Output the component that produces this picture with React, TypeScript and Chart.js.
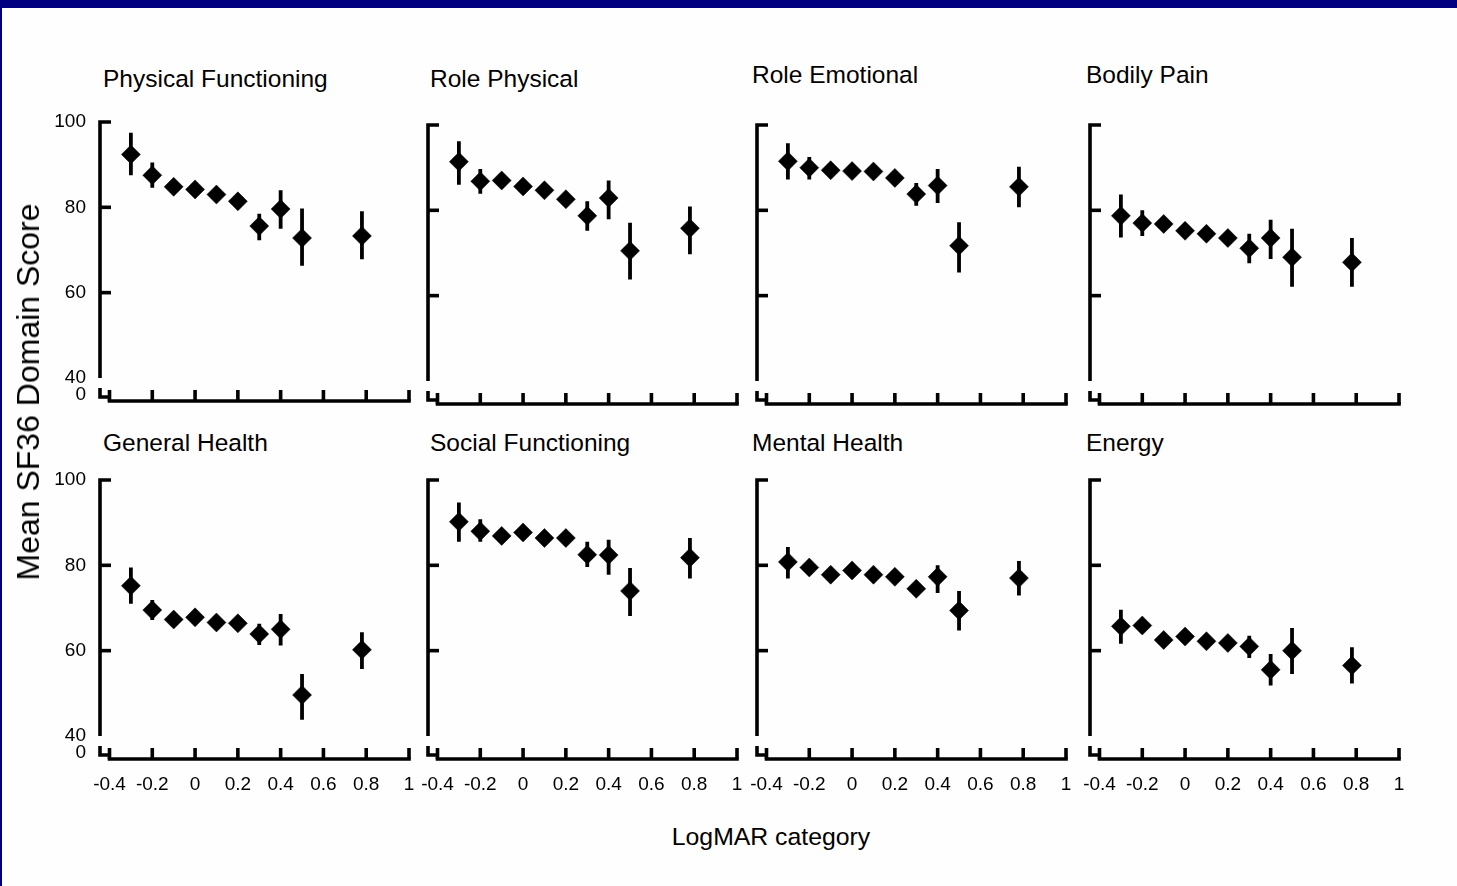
import React, { useEffect, useRef } from 'react';
import { Chart, registerables } from 'chart.js';

Chart.register(...registerables);

// ---------- data ----------
const logmarCategories = [-0.3, -0.2, -0.1, 0, 0.1, 0.2, 0.3, 0.4, 0.5, 0.78];
const xTickValues = [-0.4, -0.2, 0, 0.2, 0.4, 0.6, 0.8, 1];
const yTickValues = [40, 60, 80, 100];
const yTickMarkValues = [60, 80, 100];
const yBreakLabel = '0';

const physicalFunctioningMean = [92.4, 87.5, 84.8, 84.2, 83.0, 81.4, 75.6, 79.6, 72.8, 73.3];
const physicalFunctioningLow = [87.5, 84.6, 83.3, 82.7, 81.5, 79.9, 72.3, 75.0, 66.3, 67.8];
const physicalFunctioningHigh = [97.5, 90.5, 86.3, 85.7, 84.5, 82.9, 78.5, 84.0, 79.7, 79.1];

const rolePhysicalMean = [91.4, 86.8, 87.0, 85.6, 84.7, 82.6, 78.7, 82.9, 70.5, 75.8];
const rolePhysicalLow = [86.0, 83.9, 85.5, 84.1, 83.2, 81.1, 75.2, 77.9, 63.8, 69.7];
const rolePhysicalHigh = [96.2, 89.7, 88.5, 87.1, 86.2, 84.1, 82.1, 87.0, 77.1, 80.9];

const roleEmotionalMean = [91.5, 90.0, 89.4, 89.2, 89.1, 87.6, 83.8, 85.8, 71.7, 85.5];
const roleEmotionalLow = [87.2, 87.2, 87.9, 87.7, 87.6, 86.1, 81.1, 81.7, 65.4, 80.7];
const roleEmotionalHigh = [95.7, 92.5, 90.9, 90.7, 90.6, 89.1, 86.4, 89.7, 77.2, 90.2];

const bodilyPainMean = [78.7, 77.0, 76.8, 75.2, 74.5, 73.5, 71.1, 73.5, 69.0, 67.8];
const bodilyPainLow = [73.6, 74.0, 75.3, 73.7, 73.0, 72.0, 67.6, 68.6, 62.1, 62.1];
const bodilyPainHigh = [83.7, 80.0, 78.3, 76.7, 76.0, 75.0, 74.5, 77.8, 75.7, 73.5];

const generalHealthMean = [75.2, 69.5, 67.3, 67.8, 66.6, 66.4, 63.9, 65.0, 49.6, 60.2];
const generalHealthLow = [71.0, 67.2, 65.8, 66.3, 65.1, 64.9, 61.3, 61.2, 43.8, 55.7];
const generalHealthHigh = [79.5, 71.9, 68.8, 69.3, 68.1, 67.9, 66.3, 68.6, 54.5, 64.3];

const socialFunctioningMean = [90.2, 88.0, 86.9, 87.7, 86.4, 86.4, 82.5, 82.4, 74.0, 81.8];
const socialFunctioningLow = [85.5, 85.5, 85.4, 86.2, 84.9, 84.9, 79.6, 77.8, 68.1, 76.9];
const socialFunctioningHigh = [94.7, 90.8, 88.4, 89.2, 87.9, 87.9, 85.5, 86.0, 79.4, 86.4];

const mentalHealthMean = [80.8, 79.5, 77.8, 78.8, 77.8, 77.3, 74.5, 77.3, 69.4, 77.0];
const mentalHealthLow = [76.9, 78.0, 76.3, 77.3, 76.3, 75.8, 73.0, 73.5, 64.7, 72.9];
const mentalHealthHigh = [84.3, 81.0, 79.3, 80.3, 79.3, 78.8, 76.0, 80.0, 74.0, 81.0];

const energyMean = [65.7, 65.9, 62.5, 63.3, 62.2, 61.8, 61.0, 55.5, 60.0, 56.5];
const energyLow = [61.6, 64.4, 61.0, 61.8, 60.7, 60.3, 58.3, 51.8, 54.5, 52.3];
const energyHigh = [69.6, 67.4, 64.0, 64.8, 63.7, 63.3, 63.5, 59.2, 65.3, 60.8];

const panelTitles = [
  'Physical Functioning', 'Role Physical', 'Role Emotional', 'Bodily Pain',
  'General Health', 'Social Functioning', 'Mental Health', 'Energy',
];
const panelMeans = [
  physicalFunctioningMean, rolePhysicalMean, roleEmotionalMean, bodilyPainMean,
  generalHealthMean, socialFunctioningMean, mentalHealthMean, energyMean,
];
const panelLows = [
  physicalFunctioningLow, rolePhysicalLow, roleEmotionalLow, bodilyPainLow,
  generalHealthLow, socialFunctioningLow, mentalHealthLow, energyLow,
];
const panelHighs = [
  physicalFunctioningHigh, rolePhysicalHigh, roleEmotionalHigh, bodilyPainHigh,
  generalHealthHigh, socialFunctioningHigh, mentalHealthHigh, energyHigh,
];

const yAxisTitle = 'Mean SF36 Domain Score';
const xAxisTitle = 'LogMAR category';

// ---------- layout / style ----------
const FONT = "'Liberation Sans', Arial, Helvetica, sans-serif";
const COL_LEFT = [100, 428, 757, 1090];
const ROW_TOP = [[122, 125, 125, 125], [480, 480, 480, 480]];
const PLOT_W = 309;
const PLOT_H = 278.6;
const X_MIN = -0.4444;
const X_MAX = 1;
const Y_MIN = 34.6;
const Y_MAX = 100;
const Y_BREAK_LABEL_AT = 36;
const LEFT_W = 70;
const PAD_T = 16;
const PAD_R = 22;
const BOTTOM_H = 48;
const AXIS_W = 3.6;
const TICK_LEN = 11;
const TITLE_X = [103, 430, 752, 1086];
const TITLE_Y = [[79, 79, 75, 75], [443, 443, 443, 443]];

const brokenAxesPlugin = {
  id: 'brokenAxes',
  beforeDatasetsDraw(chart: any) {
    const { ctx } = chart;
    const xs = chart.scales.x;
    const ys = chart.scales.y;
    const ax = xs.getPixelForValue(X_MIN);
    const yb = ys.getPixelForValue(Y_MIN);
    const xStart = xs.getPixelForValue(xTickValues[0]);
    const xEnd = xs.getPixelForValue(xTickValues[xTickValues.length - 1]);
    const yLow = ys.getPixelForValue(yTickValues[0]);
    const yHigh = ys.getPixelForValue(yTickValues[yTickValues.length - 1]);
    ctx.save();
    ctx.strokeStyle = '#000';
    ctx.lineWidth = AXIS_W;
    ctx.lineCap = 'butt';
    ctx.lineJoin = 'miter';
    // y axis with top tick
    ctx.beginPath();
    ctx.moveTo(ax + TICK_LEN, yHigh);
    ctx.lineTo(ax, yHigh);
    ctx.lineTo(ax, yLow);
    ctx.stroke();
    yTickMarkValues.forEach((v) => {
      if (v === yTickValues[yTickValues.length - 1]) return;
      const p = ys.getPixelForValue(v);
      ctx.beginPath();
      ctx.moveTo(ax, p);
      ctx.lineTo(ax + TICK_LEN, p);
      ctx.stroke();
    });
    // break stub
    ctx.beginPath();
    ctx.moveTo(ax, yb - 13);
    ctx.lineTo(ax, yb - 4);
    ctx.lineTo(xStart, yb - 4);
    ctx.stroke();
    // x axis
    ctx.beginPath();
    ctx.moveTo(xStart - AXIS_W / 2, yb);
    ctx.lineTo(xEnd + AXIS_W / 2, yb);
    ctx.stroke();
    xTickValues.forEach((v) => {
      const p = xs.getPixelForValue(v);
      ctx.beginPath();
      ctx.moveTo(p, yb);
      ctx.lineTo(p, yb - TICK_LEN);
      ctx.stroke();
    });
    ctx.restore();
  },
};

function fmtX(v: number) {
  const r = Math.round(v * 10) / 10;
  return String(r);
}

function zeroPadding(s: any) {
  s.paddingTop = 0;
  s.paddingBottom = 0;
  s.paddingLeft = 0;
  s.paddingRight = 0;
}

function Panel({ idx }: { idx: number }) {
  const ref = useRef<HTMLCanvasElement>(null);
  const col = idx % 4;
  const row = Math.floor(idx / 4);
  const width = LEFT_W + PLOT_W + PAD_R;
  const height = Math.round(PAD_T + PLOT_H + BOTTOM_H);
  const left = COL_LEFT[col] - LEFT_W;
  const top = ROW_TOP[row][col] - PAD_T;

  useEffect(() => {
    const mean = panelMeans[idx];
    const low = panelLows[idx];
    const high = panelHighs[idx];
    const meanData = logmarCategories.map((x, i) => ({ x, y: mean[i] }));
    const errData: any[] = [];
    logmarCategories.forEach((x, i) => {
      errData.push({ x, y: low[i] });
      errData.push({ x, y: high[i] });
      errData.push({ x, y: null });
    });
    const showY = col === 0;
    const showX = row === 1;
    const chart = new Chart(ref.current as HTMLCanvasElement, {
      type: 'scatter',
      data: {
        datasets: [
          {
            type: 'line',
            data: errData,
            borderColor: '#000',
            borderWidth: 3.8,
            pointRadius: 0,
            spanGaps: false,
            fill: false,
            tension: 0,
          } as any,
          {
            type: 'scatter',
            data: meanData,
            pointStyle: 'rectRot',
            pointRadius: 9.5,
            backgroundColor: '#000',
            borderColor: '#000',
            borderWidth: 0.5,
          } as any,
        ],
      },
      options: {
        animation: false,
        responsive: false,
        maintainAspectRatio: false,
        events: [],
        layout: { padding: { top: PAD_T, right: PAD_R, left: 0, bottom: 0 } },
        plugins: { legend: { display: false }, tooltip: { enabled: false }, title: { display: false } },
        scales: {
          x: {
            type: 'linear',
            min: X_MIN,
            max: X_MAX,
            grid: { display: false, drawTicks: false },
            border: { display: false },
            afterBuildTicks: (s: any) => {
              s.ticks = xTickValues.map((v) => ({ value: v }));
            },
            afterFit: (s: any) => {
              s.height = BOTTOM_H;
              zeroPadding(s);
            },
            ticks: {
              display: showX,
              autoSkip: false,
              maxRotation: 0,
              minRotation: 0,
              padding: 14,
              color: '#000',
              font: { family: FONT, size: 19 },
              callback: (v: any) => fmtX(Number(v)),
            },
          },
          y: {
            type: 'linear',
            min: Y_MIN,
            max: Y_MAX,
            grid: { display: false, drawTicks: false },
            border: { display: false },
            afterBuildTicks: (s: any) => {
              s.ticks = [Y_BREAK_LABEL_AT, ...yTickValues].map((v) => ({ value: v }));
            },
            afterFit: (s: any) => {
              s.width = LEFT_W;
              zeroPadding(s);
            },
            ticks: {
              display: showY,
              autoSkip: false,
              padding: 14,
              color: '#000',
              font: { family: FONT, size: 19 },
              callback: (v: any) => (Number(v) === Y_BREAK_LABEL_AT ? yBreakLabel : String(v)),
            },
          },
        },
      } as any,
      plugins: [brokenAxesPlugin],
    });
    return () => chart.destroy();
  }, [idx]);

  return (
    <canvas
      ref={ref}
      width={width}
      height={height}
      style={{ position: 'absolute', left, top, width, height }}
    />
  );
}

export default function App() {
  return (
    <div
      style={{
        position: 'absolute',
        left: 0,
        top: 0,
        width: 1457,
        height: 886,
        background: '#000080',
        overflow: 'hidden',
        fontFamily: FONT,
      }}
    >
      <div
        style={{
          position: 'absolute',
          left: 2,
          top: 8,
          width: 1455,
          height: 878,
          background: '#fefefe',
        }}
      />
      {panelTitles.map((t, i) => {
        const col = i % 4;
        const row = Math.floor(i / 4);
        return (
          <div
            key={t}
            style={{
              position: 'absolute',
              left: TITLE_X[col],
              top: TITLE_Y[row][col] - 14,
              height: 28,
              lineHeight: '28px',
              fontSize: 24.5,
              color: '#000',
              whiteSpace: 'nowrap',
            }}
          >
            {t}
          </div>
        );
      })}
      {panelTitles.map((t, i) => (
        <Panel key={'p' + i} idx={i} />
      ))}
      <div
        style={{
          position: 'absolute',
          left: 28,
          top: 392,
          transform: 'translate(-50%, -50%) rotate(-90deg)',
          fontSize: 32,
          lineHeight: '36px',
          color: '#000',
          whiteSpace: 'nowrap',
        }}
      >
        {yAxisTitle}
      </div>
      <div
        style={{
          position: 'absolute',
          left: 771,
          top: 837,
          transform: 'translate(-50%, -50%)',
          fontSize: 24.8,
          lineHeight: '28px',
          color: '#000',
          whiteSpace: 'nowrap',
        }}
      >
        {xAxisTitle}
      </div>
    </div>
  );
}
